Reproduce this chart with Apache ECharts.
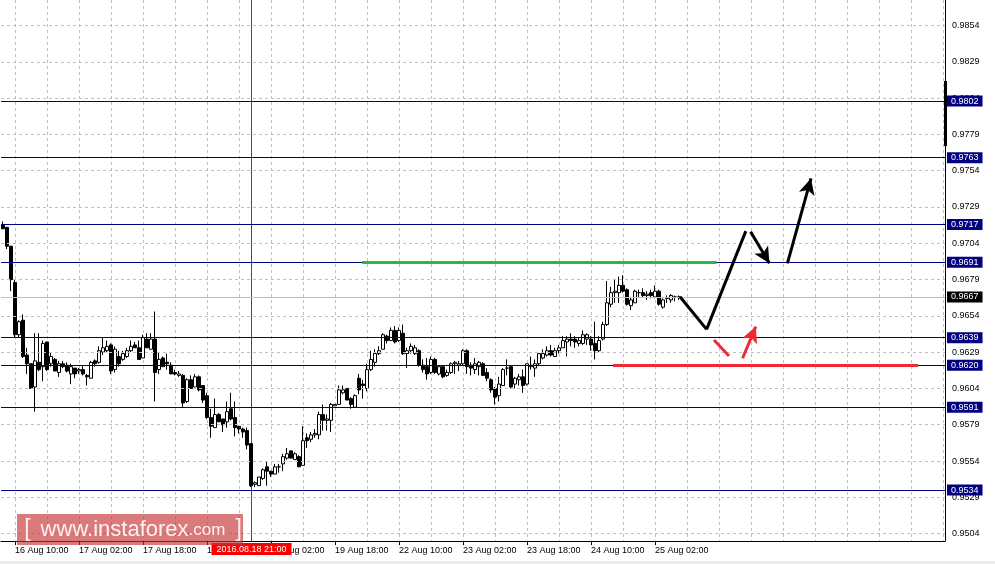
<!DOCTYPE html>
<html><head><meta charset="utf-8">
<script src="https://cdn.jsdelivr.net/npm/echarts@6/dist/echarts.min.js"></script>
<style>html,body{margin:0;padding:0;background:#fff}#c{width:995px;height:564px}</style>
</head><body><div id="c"></div><script>
// [open, high, low, close] per H1 bar
const ohlc = [
[0.9717,0.9719,0.9714,0.9714],[0.9715,0.9715,0.9700,0.9702],[0.9702,0.9702,0.9671,0.9679],[0.9677,0.9679,0.9639,0.9641],
[0.9641,0.9651,0.9639,0.9650],[0.9651,0.9655,0.9625,0.9626],[0.9627,0.9632,0.9614,0.9621],[0.9621,0.9621,0.9604,0.9604],
[0.9605,0.9642,0.9588,0.9623],[0.9622,0.9642,0.9616,0.9617],[0.9619,0.9637,0.9609,0.9635],[0.9636,0.9636,0.9616,0.9617],
[0.9621,0.9629,0.9619,0.9626],[0.9624,0.9625,0.9616,0.9616],[0.9615,0.9623,0.9612,0.9621],[0.9621,0.9623,0.9618,0.9619],
[0.9620,0.9622,0.9615,0.9616],[0.9614,0.9621,0.9607,0.9619],[0.9618,0.9618,0.9611,0.9614],[0.9616,0.9618,0.9614,0.9617],
[0.9617,0.9620,0.9613,0.9614],[0.9613,0.9614,0.9606,0.9612],[0.9611,0.9623,0.9611,0.9622],[0.9623,0.9624,0.9619,0.9621],
[0.9622,0.9633,0.9621,0.9630],[0.9629,0.9639,0.9627,0.9632],[0.9630,0.9637,0.9629,0.9633],[0.9634,0.9635,0.9614,0.9616],
[0.9617,0.9633,0.9615,0.9631],[0.9626,0.9630,0.9619,0.9621],[0.9624,0.9630,0.9623,0.9628],[0.9626,0.9632,0.9625,0.9630],
[0.9630,0.9637,0.9629,0.9633],[0.9634,0.9636,0.9632,0.9632],[0.9632,0.9637,0.9624,0.9624],[0.9625,0.9641,0.9625,0.9639],
[0.9638,0.9642,0.9632,0.9632],[0.9631,0.9642,0.9631,0.9638],[0.9638,0.9657,0.9595,0.9615],[0.9617,0.9629,0.9614,0.9624],
[0.9625,0.9626,0.9619,0.9619],[0.9622,0.9628,0.9617,0.9621],[0.9620,0.9622,0.9614,0.9614],[0.9615,0.9617,0.9613,0.9614],
[0.9613,0.9616,0.9612,0.9614],[0.9613,0.9614,0.9591,0.9594],[0.9595,0.9611,0.9594,0.9610],[0.9610,0.9613,0.9604,0.9604],
[0.9605,0.9614,0.9605,0.9612],[0.9612,0.9613,0.9602,0.9603],[0.9606,0.9606,0.9594,0.9596],[0.9599,0.9601,0.9583,0.9584],
[0.9584,0.9590,0.9570,0.9578],[0.9577,0.9597,0.9577,0.9586],[0.9586,0.9587,0.9581,0.9581],[0.9583,0.9583,0.9574,0.9579],
[0.9581,0.9595,0.9577,0.9588],[0.9590,0.9601,0.9582,0.9583],[0.9584,0.9595,0.9571,0.9577],[0.9578,0.9578,0.9573,0.9576],
[0.9576,0.9577,0.9570,0.9574],[0.9575,0.9577,0.9562,0.9565],[0.9566,0.9566,0.9536,0.9537],[0.9538,0.9540,0.9536,0.9539],
[0.9537,0.9543,0.9537,0.9543],[0.9542,0.9549,0.9541,0.9548],[0.9550,0.9554,0.9537,0.9547],[0.9547,0.9547,0.9543,0.9545],
[0.9545,0.9552,0.9545,0.9550],[0.9550,0.9552,0.9546,0.9550],[0.9552,0.9559,0.9547,0.9557],[0.9556,0.9563,0.9555,0.9559],
[0.9561,0.9561,0.9556,0.9556],[0.9555,0.9560,0.9555,0.9559],[0.9557,0.9558,0.9550,0.9550],[0.9551,0.9578,0.9551,0.9568],
[0.9570,0.9573,0.9563,0.9568],[0.9569,0.9574,0.9567,0.9572],[0.9572,0.9576,0.9570,0.9573],[0.9572,0.9588,0.9569,0.9586],
[0.9586,0.9593,0.9575,0.9582],[0.9582,0.9586,0.9575,0.9583],[0.9582,0.9594,0.9574,0.9593],[0.9592,0.9593,0.9592,0.9593],
[0.9593,0.9606,0.9593,0.9603],[0.9601,0.9606,0.9600,0.9603],[0.9604,0.9604,0.9596,0.9596],[0.9597,0.9598,0.9590,0.9593],
[0.9591,0.9600,0.9591,0.9599],[0.9611,0.9614,0.9600,0.9603],[0.9607,0.9610,0.9597,0.9606],[0.9604,0.9621,0.9602,0.9617],
[0.9617,0.9630,0.9616,0.9624],[0.9622,0.9631,0.9619,0.9628],[0.9628,0.9633,0.9627,0.9630],[0.9631,0.9642,0.9631,0.9641],
[0.9640,0.9641,0.9635,0.9637],[0.9637,0.9646,0.9637,0.9644],[0.9644,0.9647,0.9635,0.9636],[0.9637,0.9646,0.9636,0.9644],
[0.9642,0.9648,0.9627,0.9628],[0.9628,0.9632,0.9618,0.9630],[0.9630,0.9635,0.9628,0.9633],[0.9628,0.9634,0.9627,0.9632],
[0.9630,0.9631,0.9619,0.9620],[0.9620,0.9624,0.9615,0.9617],[0.9619,0.9625,0.9610,0.9614],[0.9615,0.9626,0.9614,0.9624],
[0.9624,0.9625,0.9614,0.9615],[0.9614,0.9620,0.9613,0.9619],[0.9619,0.9619,0.9611,0.9612],[0.9613,0.9617,0.9612,0.9615],
[0.9615,0.9622,0.9614,0.9621],[0.9621,0.9623,0.9614,0.9622],[0.9620,0.9623,0.9616,0.9621],[0.9621,0.9631,0.9620,0.9630],
[0.9630,0.9631,0.9614,0.9619],[0.9620,0.9622,0.9613,0.9618],[0.9617,0.9625,0.9614,0.9621],[0.9619,0.9623,0.9613,0.9622],
[0.9621,0.9622,0.9613,0.9613],[0.9615,0.9618,0.9609,0.9611],[0.9610,0.9611,0.9601,0.9603],[0.9604,0.9605,0.9593,0.9598],
[0.9599,0.9612,0.9595,0.9607],[0.9606,0.9618,0.9606,0.9617],[0.9618,0.9624,0.9613,0.9618],[0.9619,0.9620,0.9604,0.9605],
[0.9607,0.9612,0.9604,0.9611],[0.9610,0.9614,0.9606,0.9612],[0.9612,0.9617,0.9601,0.9606],[0.9607,0.9621,0.9606,0.9621],
[0.9619,0.9626,0.9617,0.9620],[0.9618,0.9624,0.9612,0.9621],[0.9621,0.9628,0.9620,0.9628],[0.9625,0.9631,0.9624,0.9628],
[0.9627,0.9633,0.9626,0.9630],[0.9630,0.9634,0.9626,0.9627],[0.9626,0.9632,0.9626,0.9630],[0.9630,0.9634,0.9628,0.9632],
[0.9632,0.9640,0.9632,0.9637],[0.9636,0.9640,0.9626,0.9638],[0.9638,0.9642,0.9633,0.9637],[0.9638,0.9640,0.9632,0.9636],
[0.9635,0.9639,0.9633,0.9637],[0.9635,0.9644,0.9634,0.9641],[0.9638,0.9642,0.9634,0.9641],[0.9638,0.9640,0.9630,0.9634],
[0.9635,0.9650,0.9624,0.9630],[0.9630,0.9640,0.9629,0.9637],[0.9638,0.9650,0.9637,0.9648],[0.9648,0.9678,0.9647,0.9663],
[0.9662,0.9674,0.9660,0.9670],[0.9670,0.9679,0.9663,0.9671],[0.9670,0.9681,0.9663,0.9675],[0.9675,0.9682,0.9670,0.9671],
[0.9672,0.9673,0.9661,0.9662],[0.9661,0.9667,0.9658,0.9665],[0.9663,0.9672,0.9663,0.9671],[0.9670,0.9672,0.9667,0.9670],
[0.9670,0.9673,0.9667,0.9668],[0.9668,0.9671,0.9665,0.9669],[0.9670,0.9672,0.9666,0.9668],[0.9667,0.9675,0.9666,0.9671],
[0.9671,0.9672,0.9661,0.9662],[0.9660,0.9666,0.9659,0.9665],[0.9666,0.9668,0.9663,0.9666],[0.9665,0.9669,0.9663,0.9668],
[0.9667,0.9668,0.9664,0.9667],[0.9667,0.9668,0.9665,0.9667]
];
const slotCount = 236;               // bar slots across the plot (incl. empty future area)
const xTickFirst = 3, xTickStep = 16, xGridStep = 8;
const xTickLabels = ['16 Aug 10:00','17 Aug 02:00','17 Aug 18:00','18 Aug 10:00','19 Aug 02:00','19 Aug 18:00',
  '22 Aug 10:00','23 Aug 02:00','23 Aug 18:00','24 Aug 10:00','25 Aug 02:00'];
const yTicks = [0.9854,0.9829,0.9804,0.9779,0.9754,0.9729,0.9704,0.9679,0.9654,0.9629,0.9604,0.9579,0.9554,0.9529,0.9504];
const levels = [0.9802,0.9763,0.9717,0.9691,0.9639,0.9620,0.9591,0.9534];
const currentPrice = 0.9667;
const markerBar = 62, markerLabel = '2016.08.18 21:00';
const greenLevel = [[89.75,0.9691],[178.4,0.9691]];
const redLevel = [[152.5,0.9620],[228.75,0.9620]];
const blackPath = [[169.25,0.96672],[175.9,0.96447],[185.7,0.97124]];
const blackArrows = [[[186.9,0.97119],[191.6,0.96902]],[[196.1,0.96902],[202.0,0.97487]]];
const redPath = [[177.75,0.96374],[181.5,0.96264]];
const redArrow = [[184.9,0.96248],[188.2,0.96466]];

const FONT = 'Liberation Sans';
const Y_MIN = 0.94989, Y_MAX = 0.98716;
const GRID_LEFT = 1, GRID_RIGHT = 50, PLOT_W = 995 - GRID_LEFT - GRID_RIGHT;
const HALF_PX = 0.5 / (PLOT_W / slotCount);   // half a pixel in slot units, keeps the 1px marker crisp
const categories = Array.from({length: slotCount}, (_, i) => String(i));
const isTick = i => i >= xTickFirst && (i - xTickFirst) % xTickStep === 0 && (i - xTickFirst) / xTickStep < xTickLabels.length;

const seg = (a, b, arrow, color) => [
  {coord: a, symbol: 'none', lineStyle: {color, width: 3, type: 'solid', opacity: 1}},
  {coord: b, symbol: arrow ? 'arrow' : 'none', symbolSize: [12, 16], itemStyle: {color}}
];
const drawData = [];
drawData.push(seg(greenLevel[0], greenLevel[1], false, '#2fb54a'));
drawData.push(seg(redLevel[0], redLevel[1], false, '#ee2a35'));
for (let i = 0; i < blackPath.length - 1; i++) drawData.push(seg(blackPath[i], blackPath[i+1], false, '#000'));
blackArrows.forEach(a => drawData.push(seg(a[0], a[1], true, '#000')));
drawData.push(seg(redPath[0], redPath[1], false, '#ee2a35'));
drawData.push(seg(redArrow[0], redArrow[1], true, '#ee2a35'));

const chart = echarts.init(document.getElementById('c'));
chart.setOption({
  animation: false,
  backgroundColor: '#fff',
  grid: {left: GRID_LEFT, right: GRID_RIGHT, top: 0, bottom: 23},
  xAxis: [{
    type: 'category', data: categories, boundaryGap: true,
    axisLine: {show: true, onZero: false, lineStyle: {color: '#000', width: 1}},
    axisTick: {show: true, alignWithLabel: true, interval: i => isTick(i), length: 4, lineStyle: {color: '#000'}},
    axisLabel: {show: true, interval: i => isTick(i), formatter: (v, i) => xTickLabels[(i - xTickFirst) / xTickStep] || '',
      align: 'left', margin: 5, color: '#000', fontFamily: FONT, fontSize: 9},
    splitLine: {show: true, alignWithLabel: true, interval: i => (i - xTickFirst) % xGridStep === 0,
      lineStyle: {color: '#c0c0c0', type: [3, 3], width: 1}}
  }, {
    type: 'value', min: -0.5, max: slotCount - 0.5, show: false
  }],
  yAxis: {
    type: 'value', position: 'right', min: Y_MIN, max: Y_MAX, scale: true,
    axisLine: {show: true, onZero: false, lineStyle: {color: '#000', width: 1}},
    axisTick: {show: false}, axisLabel: {show: false}, splitLine: {show: false}
  },
  series: [
    { // price grid + right scale labels
      type: 'line', data: [], z: 1, silent: true,
      markLine: {
        silent: true, symbol: ['none', 'none'], precision: 4,
        lineStyle: {color: '#c0c0c0', type: [3, 3], width: 1},
        label: {position: 'end', distance: 7, color: '#000', fontFamily: FONT, fontSize: 9, formatter: '{b}'},
        emphasis: {disabled: true},
        data: yTicks.map(v => ({yAxis: v, name: v.toFixed(4)}))
      }
    },
    { // horizontal levels
      type: 'line', data: [], z: 2, silent: true,
      markLine: {
        silent: true, symbol: ['none', 'none'], precision: 4,
        emphasis: {disabled: true},
        data: levels.map(v => ({yAxis: v, name: v.toFixed(4),
          lineStyle: {color: '#000080', width: 1, type: 'solid'},
          label: {position: 'end', distance: 2, color: '#fff', backgroundColor: '#000080', padding: [1, 4, 0, 4],
            fontFamily: FONT, fontSize: 9, lineHeight: 10, formatter: '{b}'}}))
          .concat([{yAxis: currentPrice, name: currentPrice.toFixed(4),
          lineStyle: {color: '#c0c0c0', width: 1, type: 'solid'},
          label: {position: 'end', distance: 2, color: '#fff', backgroundColor: '#000', padding: [1, 4, 0, 4],
            fontFamily: FONT, fontSize: 9, lineHeight: 10, formatter: '{b}'}}])
      }
    },
    { // time marker: vertical red line with its date label under the axis
      type: 'line', xAxisIndex: 1, z: 3, silent: true, clip: false,
      showSymbol: true, symbol: 'circle', symbolSize: 0,
      color: '#ff0000',
      lineStyle: {color: '#ff0000', width: 1, type: 'solid'},
      data: [
        {value: [markerBar + HALF_PX, Y_MIN], label: {show: true, position: 'bottom', distance: 2, formatter: markerLabel,
          color: '#fff', backgroundColor: '#ff0000', padding: [2, 5, 1, 5], fontFamily: FONT, fontSize: 9}},
        {value: [markerBar + HALF_PX, Y_MAX]}
      ]
    },
    {
      type: 'candlestick', z: 4, barWidth: 3,
      data: ohlc.map(d => [d[0], d[3], d[2], d[1]]),
      itemStyle: {color: '#fff', color0: '#000', borderColor: '#000', borderColor0: '#000', borderWidth: 1}
    },
    { // analysis drawings
      type: 'line', data: [], xAxisIndex: 1, z: 5, silent: true,
      markLine: {
        silent: true, symbol: ['none', 'none'], emphasis: {disabled: true},
        label: {show: false},
        data: drawData
      }
    }
  ],
  graphic: [
    {type: 'rect', shape: {x: 944, y: 81, width: 3, height: 65}, style: {fill: '#000'}, z: 50},
    {type: 'rect', shape: {x: 0, y: 561, width: 995, height: 3}, style: {fill: '#ececec'}, z: 50},
    {type: 'rect', shape: {x: 17, y: 514, width: 226, height: 31}, style: {fill: 'rgba(200,50,50,0.65)'}, z: 100},
    {type: 'text', x: 133, y: 530, z: 101, style: {
      text: '{a|[}   {b|www.instaforex}{c|.com}   {a|]}', textAlign: 'center', textVerticalAlign: 'middle',
      rich: {
        a: {fill: 'rgba(255,255,255,0.9)', fontSize: 23, fontFamily: FONT},
        b: {fill: 'rgba(255,255,255,0.9)', fontSize: 22, fontFamily: FONT},
        c: {fill: 'rgba(255,255,255,0.9)', fontSize: 17, fontFamily: FONT}
      }}}
  ]
});
</script></body></html>
